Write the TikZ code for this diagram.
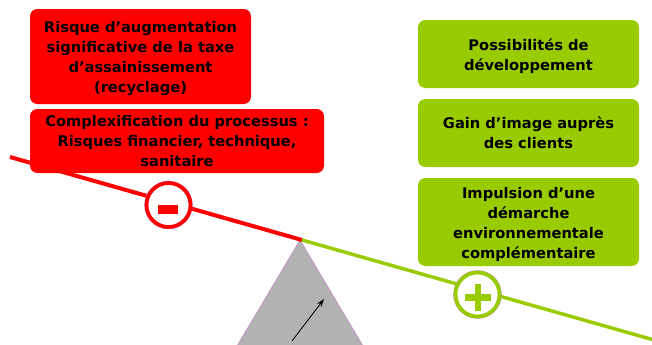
\documentclass[tikz,border=0pt]{standalone}
\usepackage{fontspec}
\usepackage{xcolor}
\usetikzlibrary{arrows.meta}
\setmainfont{DejaVu Sans}
\definecolor{riskred}{HTML}{FF0000}
\definecolor{gaingreen}{HTML}{99CC00}
\definecolor{pivotgrey}{HTML}{B2B2B2}
\newcommand{\linepad}{\rule{0pt}{11.5pt}}
\tikzset{
  textbox/.style={rounded corners=5.5pt, align=center, inner sep=0pt, font=\fontsize{11}{15}\selectfont\bfseries},
  riskbox/.style={textbox, fill=riskred},
  gainbox/.style={textbox, fill=gaingreen, minimum width=165.75pt},
  signring/.style={circle, fill=white, line width=2.8pt, minimum size=33pt, inner sep=0pt, preaction={draw=violet!50, line width=3.3pt}},
  signbar/.style={inner sep=0pt},
  beamred/.style={draw=riskred, line width=3pt},
  beamgreen/.style={draw=gaingreen, line width=2.6pt}
}
\begin{document}
\begin{tikzpicture}[x=0.75pt, y=-0.75pt]
            \useasboundingbox (0,0) rectangle (652,344);
            \clip (0,0) rectangle (652,344);

            \coordinate (L) at (10,157);
            \coordinate (M) at (302,240);
            \coordinate (R) at (654,340);
            \coordinate (T) at (300,240);
            \coordinate (P) at (237,346);
            \coordinate (Q) at (363,346);
            \coordinate (U) at (292,341);
            \coordinate (V) at (324,299);

            \node[riskbox, minimum width=165.75pt, minimum height=71.25pt] (A) at (140.5,56.5) {\linepad Risque d’augmentation\\significative de la taxe\\d’assainissement\\(recyclage)};
            \node[riskbox, minimum width=220.5pt, minimum height=48pt] (B) at (177,141) {Complexification du processus :\\Risques financier, technique,\\sanitaire};
            \node[gainbox, minimum height=51pt] (C) at (528.5,54) {\linepad Possibilités de\\développement};
            \node[gainbox, minimum height=51pt] (D) at (528.5,133) {Gain d’image auprès\\des clients};
            \node[gainbox, minimum height=66pt] (E) at (528.5,222) {\linepad Impulsion d’une\\démarche\\environnementale\\complémentaire};

            \draw[fill=pivotgrey, draw=violet!45, line width=0.5pt] (T) -- (P) -- (Q) -- cycle;
            \draw[-{Stealth[length=6pt, width=4pt]}, line width=0.6pt] (U) -- (V);

            \draw[beamred] (L) -- (M);
            \draw[beamgreen] (M) -- (R);

            \node[signring, draw=riskred] (N) at (168.5,205) {};
            \node[signring, draw=gaingreen] (S) at (477.5,294.5) {};

            \node[signbar, fill=riskred, minimum width=15pt, minimum height=6.5pt] (O) at (168,209.5) {};
            \node[signbar, fill=gaingreen, minimum width=20pt, minimum height=5pt] (H) at (478,297.5) {};
            \node[signbar, fill=gaingreen, minimum width=5pt, minimum height=20pt] (W) at (478,297.5) {};
        \end{tikzpicture}
\end{document}
